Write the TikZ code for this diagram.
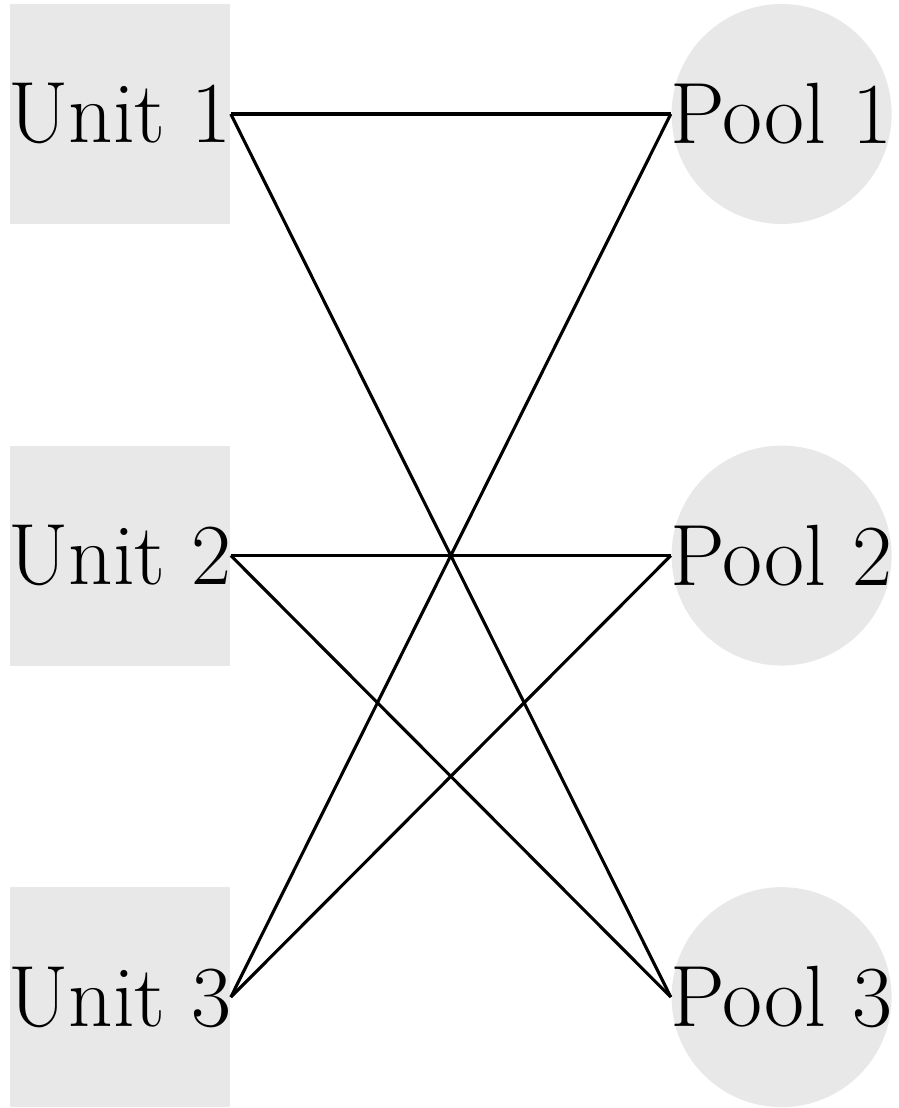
\documentclass[tikz,border=0pt]{standalone}
\usetikzlibrary{positioning}
\tikzset{%
  unit/.style={rectangle,fill=black!9,minimum size=2cm,inner sep=0pt},
  pool/.style={circle,fill=black!9,minimum size=2cm,inner sep=0pt},
  every label/.style={font=\fontsize{22.5}{27}\selectfont,inner sep=0pt},
  link/.style={thick},
}
\begin{document}
\begin{tikzpicture}
  \useasboundingbox (-1.091,-9.036) rectangle (7.073,1.036);
  % units on the left
  \node[unit,label=center:Unit 1] (u1) at (0,0) {};
  \node[unit,label=center:Unit 2] (u2) [below=2cm of u1] {};
  \node[unit,label=center:Unit 3] (u3) [below=2cm of u2] {};
  % pools on the right
  \node[pool,label=center:Pool 1] (p1) [right=4cm of u1] {};
  \node[pool,label=center:Pool 2] (p2) [right=4cm of u2] {};
  \node[pool,label=center:Pool 3] (p3) [right=4cm of u3] {};
  % links
  \foreach \a/\b in {u1/p1,u1/p3,u2/p2,u2/p3,u3/p1,u3/p2}
    \draw[link] (\a.east) -- (\b.west);
\end{tikzpicture}
\end{document}
